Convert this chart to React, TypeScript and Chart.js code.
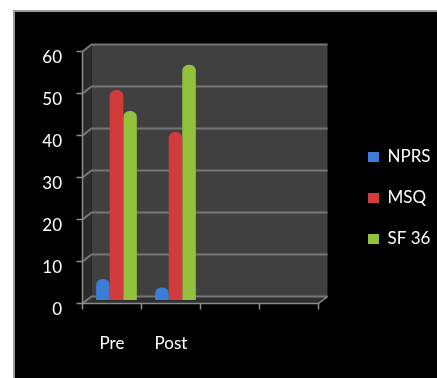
import { useEffect, useRef } from "react";
import { Chart, registerables } from "chart.js";

Chart.register(...registerables);

const categories = ["Pre", "Post", "", ""];
const nprsValues = [5, 3];
const msqValues = [50, 40];
const sf36Values = [45, 56];
const yTickValues = [0, 10, 20, 30, 40, 50, 60];
const seriesNames = ["NPRS", "MSQ", "SF 36"];
const seriesColors = ["#3a7cd6", "#d23b3b", "#92c13d"];

const W = 437;
const H = 378;
const DX = 4.5;
const DY = 3.5;
const FONT = "Lato, 'Open Sans', sans-serif";

const wallPlugin = {
  id: "walls3d",
  beforeDatasetsDraw(chart: any) {
    const { ctx, chartArea: a, scales } = chart;
    const xs = scales.x;
    const ys = scales.y;
    const poly = (pts: number[][]) => {
      ctx.beginPath();
      ctx.moveTo(pts[0][0], pts[0][1]);
      for (let i = 1; i < pts.length; i++) ctx.lineTo(pts[i][0], pts[i][1]);
      ctx.closePath();
      ctx.fill();
    };
    ctx.save();
    ctx.fillStyle = "#404040";
    ctx.fillRect(a.left + DX, a.top - DY, a.right - a.left, a.bottom - a.top);
    ctx.fillStyle = "#2c2c2c";
    poly([
      [a.left + DX, a.top - DY],
      [a.left + DX, a.bottom - DY],
      [a.left - DX, a.bottom + DY],
      [a.left - DX, a.top + DY],
    ]);
    ctx.fillStyle = "#2f2f2f";
    poly([
      [a.left + DX, a.bottom - DY],
      [a.right + DX, a.bottom - DY],
      [a.right - DX, a.bottom + DY],
      [a.left - DX, a.bottom + DY],
    ]);
    ctx.strokeStyle = "#767676";
    ctx.lineWidth = 2;
    yTickValues.forEach((v) => {
      const py = ys.getPixelForValue(v);
      ctx.beginPath();
      ctx.moveTo(a.left - DX, py + DY);
      ctx.lineTo(a.left + DX, py - DY);
      ctx.lineTo(a.right + DX, py - DY);
      ctx.stroke();
    });
    ctx.strokeStyle = "#8c8c8c";
    ctx.lineWidth = 1.5;
    ctx.beginPath();
    ctx.moveTo(a.left - DX, a.top + DY);
    ctx.lineTo(a.left - DX, a.bottom + DY);
    ctx.lineTo(a.right - DX, a.bottom + DY);
    ctx.lineTo(a.right + DX, a.bottom - DY);
    ctx.stroke();
    yTickValues.forEach((v) => {
      const py = ys.getPixelForValue(v) + DY;
      ctx.beginPath();
      ctx.moveTo(a.left - DX - 6, py);
      ctx.lineTo(a.left - DX, py);
      ctx.stroke();
    });
    const n = categories.length;
    const step = (a.right - a.left) / n;
    for (let i = 0; i <= n; i++) {
      const px = (i < n ? xs.getPixelForValue(i) - step / 2 : a.right) - DX;
      ctx.beginPath();
      ctx.moveTo(px, a.bottom + DY);
      ctx.lineTo(px, a.bottom + DY + 6);
      ctx.stroke();
    }
    ctx.restore();
  },
};

export default function App() {
  const ref = useRef<HTMLCanvasElement>(null);
  useEffect(() => {
    const canvas = ref.current!;
    const m = canvas.getContext("2d")!;
    const legendFontSize = 17;
    m.font = `${legendFontSize}px ${FONT}`;
    const textW = Math.max(...seriesNames.map((s) => m.measureText(s).width));
    const boxW = 11;
    const lpad = 24;
    const legendW = lpad + boxW + legendFontSize / 2 + textW + 10;
    const legendLeft = 368 - lpad;
    const padRight = Math.max(0, W - legendLeft - legendW);
    const legendCap = W - legendLeft - padRight;
    const areaRight = 323;
    const dummyW = legendLeft - areaRight;

    const values = [nprsValues, msqValues, sf36Values];
    const chart = new Chart(canvas, {
      type: "bar",
      data: {
        labels: categories,
        datasets: seriesNames.map((name, i) => ({
          label: name,
          data: values[i],
          backgroundColor: seriesColors[i],
          borderWidth: 0,
          borderRadius: { topLeft: 6, topRight: 6, bottomLeft: 0, bottomRight: 0 },
          borderSkipped: "bottom",
          barPercentage: 1.0,
          categoryPercentage: 0.69,
        })),
      },
      plugins: [wallPlugin],
      options: {
        responsive: false,
        animation: false,
        layout: { padding: { top: 48, left: 0, bottom: 0, right: padRight } },
        plugins: {
          tooltip: { enabled: false },
          legend: {
            position: "right",
            fullSize: false,
            maxWidth: legendCap,
            title: { display: true, text: "", padding: { top: 33.6, bottom: 0 }, font: { size: 12 } },
            labels: {
              color: "#ffffff",
              boxWidth: boxW,
              boxHeight: 10,
              padding: lpad,
              font: { family: FONT, size: legendFontSize },
            },
          },
        },
        scales: {
          x: {
            grid: { display: false, drawTicks: false },
            border: { display: false },
            ticks: {
              color: "#ffffff",
              padding: 33,
              labelOffset: -DX,
              maxRotation: 0,
              autoSkip: false,
              font: { family: FONT, size: 17 },
            },
            afterFit: (s: any) => {
              s.height = 78;
            },
          },
          y: {
            min: 0,
            max: 60,
            grid: { display: false, drawTicks: false },
            border: { display: false },
            ticks: {
              stepSize: 10,
              color: "#ffffff",
              padding: 25,
              labelOffset: 10,
              font: { family: FONT, size: 17 },
            },
            afterFit: (s: any) => {
              s.width = 87;
            },
          },
          y2: {
            type: "linear",
            position: "right",
            display: true,
            grid: { display: false },
            border: { display: false },
            ticks: { display: false },
            afterFit: (s: any) => {
              s.width = dummyW;
            },
          },
        },
      },
    } as any);
    return () => chart.destroy();
  }, []);

  return (
    <div style={{ position: "fixed", left: 0, top: 0, width: W, height: H, background: "#ffffff" }}>
      <div
        style={{
          position: "absolute",
          left: 13,
          top: 10,
          right: 0,
          bottom: 0,
          background: "#000000",
          borderLeft: "2px solid #9a9a9a",
          borderTop: "2px solid #9a9a9a",
        }}
      />
      <canvas ref={ref} width={W} height={H} style={{ position: "absolute", left: 0, top: 0 }} />
    </div>
  );
}
